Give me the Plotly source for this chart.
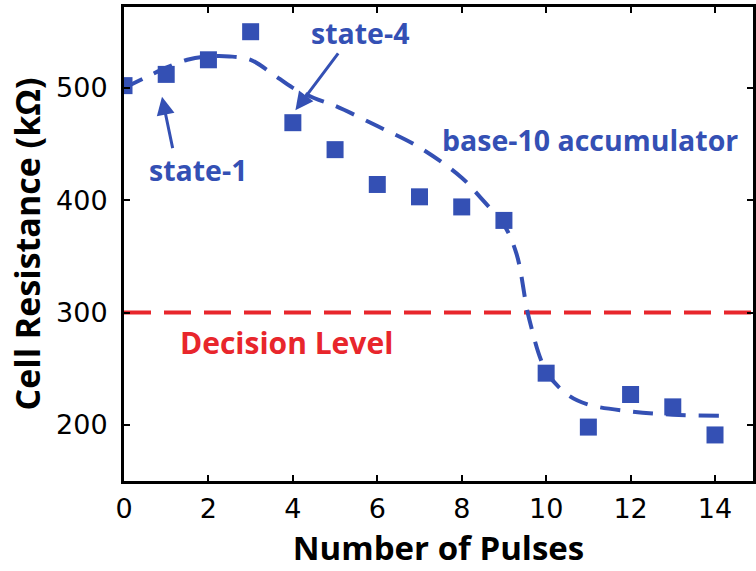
import plotly.graph_objects as go

# Measured cell resistance after each programming pulse
pulses = [0, 1, 2, 3, 4, 5, 6, 7, 8, 9, 10, 11, 12, 13, 14]
resistance = [502, 512, 525, 550, 469, 445, 414, 403, 394, 382, 246, 198, 227, 216, 191]

# Guide curve for the base-10 accumulator trend
fit_x = [0, 0.5, 1, 1.5, 2, 2.5, 3, 3.5, 4, 4.5, 5, 6, 7, 8, 8.5, 9, 9.3, 9.6, 10, 10.5, 11, 12, 13, 14.1]
fit_y = [500, 509, 518, 525, 528, 528, 525, 513, 500, 491, 484, 466, 447, 420, 400, 378, 352, 294, 248, 227, 218, 212, 209, 208]

decision_level = 300
x_ticks = [0, 2, 4, 6, 8, 10, 12, 14]
y_ticks = [200, 300, 400, 500]

BLUE = "#3450b4"
RED = "#e8262c"
LABEL_FONT = "Open Sans"

fig = go.Figure()

fig.add_trace(go.Scatter(
    x=[0, 14.9], y=[decision_level, decision_level], mode="lines",
    line=dict(color=RED, width=4, dash="27px,13px"), hoverinfo="skip",
))
fig.add_trace(go.Scatter(
    x=fit_x, y=fit_y, mode="lines", line_shape="spline",
    line=dict(color=BLUE, width=4, dash="20px,13px"),
))
fig.add_trace(go.Scatter(
    x=pulses, y=resistance, mode="markers",
    marker=dict(symbol="square", size=17, color=BLUE),
))

text_font = dict(family=LABEL_FONT, size=28.5, color=BLUE, weight="bold")

fig.add_annotation(x=0.9, y=492, ax=1.16, ay=445, axref="x", ayref="y",
                   text="", showarrow=True, arrowhead=2, arrowsize=1.2,
                   arrowwidth=3, arrowcolor=BLUE)
fig.add_annotation(x=1.75, y=427, text="state-1", showarrow=False, font=text_font)

fig.add_annotation(x=4.06, y=480, ax=5.1, ay=532, axref="x", ayref="y",
                   text="", showarrow=True, arrowhead=2, arrowsize=1.2,
                   arrowwidth=3, arrowcolor=BLUE)
fig.add_annotation(x=5.6, y=549, text="state-4", showarrow=False, font=text_font)

fig.add_annotation(x=11.05, y=454, text="base-10 accumulator", showarrow=False, font=text_font)
fig.add_annotation(x=3.85, y=273, text="Decision Level", showarrow=False,
                   font=dict(family=LABEL_FONT, size=30, color=RED, weight="bold"))

axis_common = dict(
    showline=True, linecolor="black", linewidth=3, mirror="ticks",
    ticks="inside", ticklen=6, tickwidth=2, tickcolor="black",
    showgrid=False, zeroline=False,
    tickfont=dict(family="DejaVu Sans", size=27, color="black"),
)

fig.update_xaxes(range=[0, 14.9], tickvals=x_ticks, ticklabelstandoff=2,
                 title=dict(text="Number of Pulses", standoff=14,
                            font=dict(family=LABEL_FONT, size=33, color="black", weight="bold")),
                 **axis_common)
fig.update_yaxes(range=[150, 572], tickvals=y_ticks, ticklabelstandoff=8,
                 title=dict(text="Cell Resistance (kΩ)", standoff=6,
                            font=dict(family=LABEL_FONT, size=34, color="black", weight="bold")),
                 **axis_common)

fig.update_layout(
    width=756, height=571,
    margin=dict(l=124, r=0, t=7, b=90),
    plot_bgcolor="white", paper_bgcolor="white",
    showlegend=False,
)

fig.write_html("out.html")
